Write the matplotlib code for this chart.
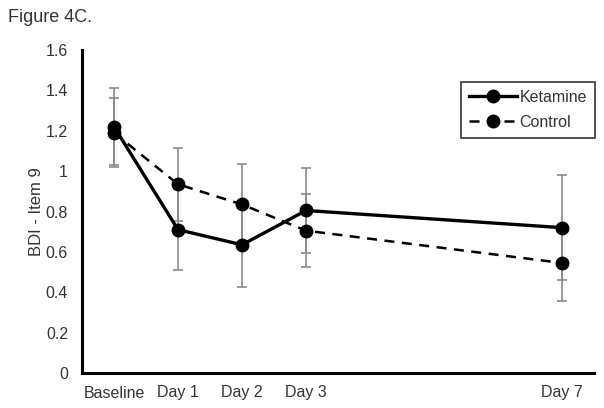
import matplotlib
matplotlib.use("Agg")
import matplotlib.pyplot as plt

plt.rcParams['font.family'] = ['Liberation Sans', 'DejaVu Sans']

days = [0, 1, 2, 3, 7]
tick_labels = ["Baseline", "Day 1", "Day 2", "Day 3", "Day 7"]
ketamine = [1.22, 0.71, 0.635, 0.805, 0.72]
ketamine_err = [0.19, 0.20, 0.21, 0.21, 0.26]
control = [1.19, 0.935, 0.835, 0.705, 0.545]
control_err = [0.17, 0.18, 0.20, 0.18, 0.19]
yticks = [0, 0.2, 0.4, 0.6, 0.8, 1, 1.2, 1.4, 1.6]
ytick_labels = ["0", "0.2", "0.4", "0.6", "0.8", "1", "1.2", "1.4", "1.6"]

W, H = 604, 408
fig = plt.figure(figsize=(W / 100, H / 100), dpi=100)
ax = fig.add_axes([82 / W, 1 - 373 / H, (594 - 82) / W, (373 - 50) / H])

ecol = '#8a8a8a'
ax.errorbar(days, control, yerr=control_err, fmt='none', ecolor=ecol,
            elinewidth=1.2, capsize=3.5, capthick=1.2, zorder=1)
ax.errorbar(days, ketamine, yerr=ketamine_err, fmt='none', ecolor=ecol,
            elinewidth=1.2, capsize=3.5, capthick=1.2, zorder=1)
ax.plot(days, control, color='black', linestyle=(0, (4, 3)), linewidth=1.8,
        marker='o', markersize=9, label='Control', zorder=3)
ax.plot(days, ketamine, color='black', linestyle='-', linewidth=2.4,
        marker='o', markersize=9, label='Ketamine', zorder=4)

ax.set_xlim(-0.5, 7.5)
ax.set_ylim(0, 1.6)
ax.set_yticks(yticks)
ax.set_yticklabels(ytick_labels)
ax.set_xticks(days)
ax.set_xticklabels(tick_labels)
ax.tick_params(length=0, labelsize=11.5, colors='#333333')
ax.tick_params(axis='y', pad=10)
ax.tick_params(axis='x', pad=9)
for s in ['top', 'right']:
    ax.spines[s].set_visible(False)
for s in ['left', 'bottom']:
    ax.spines[s].set_linewidth(2.2)
ax.set_ylabel('BDI - Item 9', fontsize=12, color='#333333', labelpad=1)

handles, labels = ax.get_legend_handles_labels()
leg = ax.legend(handles[::-1], labels[::-1], loc='upper right',
                bbox_to_anchor=(595 / W, 1 - 82 / H),
                bbox_transform=fig.transFigure, fontsize=11.5, frameon=True,
                fancybox=False, edgecolor='black', handlelength=3.0,
                borderpad=0.5, labelspacing=0.6, handletextpad=0.15,
                borderaxespad=0)
leg.get_frame().set_linewidth(1.2)
for t in leg.get_texts():
    t.set_color('#333333')

fig.text(8 / W, 1 - 18 / H, 'Figure 4C.', fontsize=13, color='#333333',
         va='center', ha='left')

fig.savefig('out.png', dpi=100)
